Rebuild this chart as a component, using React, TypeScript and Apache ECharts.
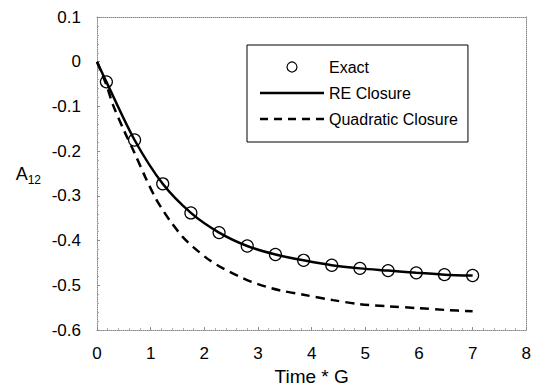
import React, { useEffect, useRef } from "react";
import * as echarts from "echarts";

const exactT = [0.175, 0.7, 1.225, 1.75, 2.275, 2.8, 3.325, 3.85, 4.375, 4.9, 5.425, 5.95, 6.475, 7.0];
const exactA = [-0.045, -0.175, -0.273, -0.338, -0.382, -0.412, -0.431, -0.444, -0.455, -0.462, -0.467, -0.472, -0.476, -0.478];

const reT = [0, 0.175, 0.7, 1.225, 1.75, 2.275, 2.8, 3.325, 3.85, 4.375, 4.9, 5.425, 5.95, 6.475, 7.0];
const reA = [0, -0.045, -0.175, -0.273, -0.338, -0.382, -0.412, -0.431, -0.444, -0.455, -0.462, -0.467, -0.472, -0.476, -0.478];

const quadT = [0, 0.175, 0.3, 0.5, 0.7, 0.9, 1.1, 1.25, 1.4, 1.6, 1.8, 2.1, 2.35, 2.63, 2.88, 3.15, 3.4, 3.85, 4.4, 4.9, 5.45, 6.0, 6.5, 7.0];
const quadA = [0, -0.052, -0.097, -0.153, -0.204, -0.258, -0.307, -0.336, -0.362, -0.392, -0.415, -0.444, -0.462, -0.479, -0.492, -0.503, -0.511, -0.521, -0.533, -0.542, -0.547, -0.551, -0.555, -0.558];

const FONT = "Liberation Sans, Arial, Helvetica, sans-serif";

const SOLID_ICON = "path://M0,0L64,0L64,2.5L0,2.5Z";
const DASH_ICON =
  "path://M0,0L8,0L8,2.5L0,2.5ZM14,0L22,0L22,2.5L14,2.5ZM28,0L36,0L36,2.5L28,2.5ZM42,0L50,0L50,2.5L42,2.5ZM56,0L64,0L64,2.5L56,2.5Z";

export default function App() {
  const ref = useRef<HTMLDivElement>(null);
  useEffect(() => {
    if (!ref.current) return;
    const chart = echarts.init(ref.current, undefined, { renderer: "svg" });
    const dotted = { show: true, onZero: false, lineStyle: { color: "#8a8a8a", type: "dotted", width: 1 } };
    chart.setOption({
      animation: false,
      backgroundColor: "#ffffff",
      textStyle: { fontFamily: FONT },
      grid: { left: 97, right: 7, top: 17, bottom: 59 },
      legend: {
        orient: "vertical",
        left: 247,
        top: 45,
        padding: [14, 10, 15, 13],
        itemWidth: 64,
        itemHeight: 10,
        itemGap: 10,
        borderColor: "#000",
        borderWidth: 1,
        textStyle: { fontFamily: FONT, fontSize: 16, color: "#000" },
        data: [
          {
            name: "Exact",
            icon: "circle",
            itemStyle: { color: "#ffffff", borderColor: "#000000", borderWidth: 1.2 },
          },
          { name: "RE Closure", icon: SOLID_ICON, itemStyle: { color: "#000" } },
          { name: "Quadratic Closure", icon: DASH_ICON, itemStyle: { color: "#000" } },
        ],
      },
      xAxis: [
        {
          type: "value",
          min: 0,
          max: 8,
          interval: 1,
          name: "Time * G",
          nameLocation: "middle",
          nameGap: 34,
          nameTextStyle: { fontFamily: FONT, fontSize: 19, color: "#000" },
          axisLine: dotted,
          axisTick: { show: true, length: 3, inside: true, lineStyle: { color: "#8a8a8a" } },
          minorTick: { show: true, splitNumber: 5, length: 2, lineStyle: { color: "#aaa" } },
          axisLabel: { fontFamily: FONT, fontSize: 17, color: "#000", margin: 15 },
          splitLine: { show: false },
        },
        {
          type: "value",
          position: "top",
          min: 0,
          max: 8,
          interval: 1,
          axisLine: dotted,
          axisTick: { show: false },
          axisLabel: { show: false },
          splitLine: { show: false },
        },
      ],
      yAxis: [
        {
          type: "value",
          min: -0.6,
          max: 0.1,
          interval: 0.1,
          name: "{a|A}{s|12}",
          nameLocation: "middle",
          nameRotate: 0,
          nameGap: 56,
          nameTextStyle: {
            rich: {
              a: { fontFamily: FONT, fontSize: 18, color: "#000", lineHeight: 22 },
              s: { fontFamily: FONT, fontSize: 12, color: "#000", padding: [12, 0, 0, 0] },
            },
          },
          axisLine: dotted,
          axisTick: { show: true, length: 3, inside: true, lineStyle: { color: "#8a8a8a" } },
          minorTick: { show: true, splitNumber: 5, length: 2, lineStyle: { color: "#aaa" } },
          axisLabel: { fontFamily: FONT, fontSize: 17, color: "#000", margin: 16 },
          splitLine: { show: false },
        },
        {
          type: "value",
          position: "right",
          min: -0.6,
          max: 0.1,
          interval: 0.1,
          axisLine: dotted,
          axisTick: { show: false },
          axisLabel: { show: false },
          splitLine: { show: false },
        },
      ],
      series: [
        {
          name: "RE Closure",
          type: "line",
          smooth: 0.3,
          symbol: "none",
          z: 2,
          lineStyle: { color: "#000", width: 2.5 },
          itemStyle: { color: "#000" },
          data: reT.map((t, i) => [t, reA[i]]),
        },
        {
          name: "Quadratic Closure",
          type: "line",
          smooth: 0.3,
          symbol: "none",
          lineStyle: { color: "#000", width: 2.5, type: [9, 6] },
          itemStyle: { color: "#000" },
          data: quadT.map((t, i) => [t, quadA[i]]),
        },
        {
          name: "Exact",
          type: "scatter",
          symbol: "circle",
          symbolSize: 12,
          z: 3,
          itemStyle: { color: "rgba(255,255,255,0)", borderColor: "#000000", borderWidth: 1.2, opacity: 1 },
          data: exactT.map((t, i) => [t, exactA[i]]),
        },
      ],
    });
    return () => chart.dispose();
  }, []);
  return (
    <div
      ref={ref}
      style={{ position: "fixed", left: 0, top: 0, width: 534, height: 391, background: "#fff" }}
    />
  );
}
